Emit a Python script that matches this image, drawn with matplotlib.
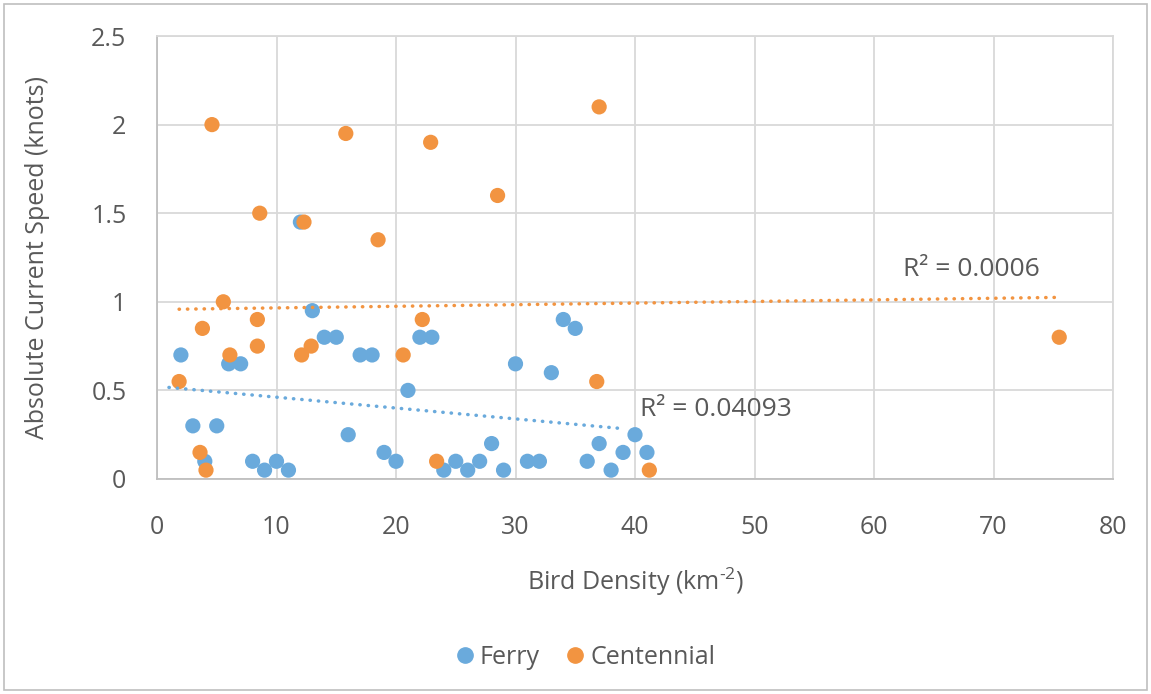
import numpy as np
import matplotlib
matplotlib.use("Agg")
import matplotlib.pyplot as plt
from matplotlib.lines import Line2D
from matplotlib.patches import Rectangle

plt.rcParams['font.family'] = ['Open Sans', 'DejaVu Sans']
plt.rcParams['mathtext.fontset'] = 'custom'
plt.rcParams['mathtext.rm'] = 'Open Sans'
plt.rcParams['mathtext.it'] = 'Open Sans'

# ---- data ----
ferry_x = [2, 3, 4, 5, 6, 7, 8, 9, 10, 11, 12, 13, 14, 15, 16, 17, 18, 19, 20, 21,
           22, 23, 24, 25, 26, 27, 28, 29, 30, 31, 32, 33, 34, 35, 36, 37, 38, 39, 40, 41]
ferry_y = [0.7, 0.3, 0.1, 0.3, 0.65, 0.65, 0.1, 0.05, 0.1, 0.05, 1.45, 0.95, 0.8, 0.8, 0.25,
           0.7, 0.7, 0.15, 0.1, 0.5, 0.8, 0.8, 0.05, 0.1, 0.05, 0.1, 0.2, 0.05, 0.65, 0.1,
           0.1, 0.6, 0.9, 0.85, 0.1, 0.2, 0.05, 0.15, 0.25, 0.15]
cent_x = [1.85, 3.6, 3.8, 4.1, 4.6, 5.55, 6.1, 8.4, 8.4, 8.6, 12.1, 12.3, 12.9, 15.8,
          18.5, 20.6, 22.2, 22.9, 23.4, 28.5, 36.8, 37.0, 41.2, 75.5]
cent_y = [0.55, 0.15, 0.85, 0.05, 2.0, 1.0, 0.7, 0.9, 0.75, 1.5, 0.7, 1.45, 0.75, 1.95,
          1.35, 0.7, 0.9, 1.9, 0.1, 1.6, 0.55, 2.1, 0.05, 0.8]
ferry_trend_range = [1, 39]
cent_trend_range = [1.85, 75.5]
ferry_r2 = "R² = 0.04093"
cent_r2 = "R² = 0.0006"
x_ticks = [0, 10, 20, 30, 40, 50, 60, 70, 80]
y_ticks = [0, 0.5, 1, 1.5, 2, 2.5]
y_tick_labels = ["0", "0.5", "1", "1.5", "2", "2.5"]

BLUE = "#6AAADC"
ORANGE = "#F29441"
TXT = "#595959"
GRID = "#D9D9D9"
FS = 18

fig = plt.figure(figsize=(11.51, 6.94), dpi=100)
ax = fig.add_axes([157/1151, 1-479/694, (1113-157)/1151, (479-36)/694])

ax.set_xlim(0, 80)
ax.set_ylim(0, 2.5)
ax.set_xticks(x_ticks)
ax.set_yticks(y_ticks)
ax.set_yticklabels(y_tick_labels)
ax.grid(True, color=GRID, linewidth=1.3, zorder=0)
ax.set_axisbelow(True)
ax.tick_params(length=0, labelsize=FS, labelcolor=TXT)
ax.tick_params(axis='x', pad=26)
ax.tick_params(axis='y', pad=22)
for s in ax.spines.values():
    s.set_color(GRID)
    s.set_linewidth(1.3)
ax.spines['left'].set_color("#BFBFBF")
ax.spines['bottom'].set_color("#BFBFBF")

ms = 120
ax.scatter(ferry_x, ferry_y, s=ms, color=BLUE, edgecolors='none', zorder=3)
ax.scatter(cent_x, cent_y, s=ms, color=ORANGE, edgecolors='none', zorder=3)

# trendlines
for xs, ys, rng, c in [(ferry_x, ferry_y, ferry_trend_range, BLUE),
                       (cent_x, cent_y, cent_trend_range, ORANGE)]:
    m, b = np.polyfit(xs, ys, 1)
    tx = np.array(rng)
    ax.plot(tx, m*tx + b, color=c, linewidth=2.5, linestyle=(0, (0.1, 2.3)),
            dash_capstyle='round', zorder=4)

ax.text(62.4, 1.18, cent_r2, fontsize=19, color=TXT, va='center', ha='left')
ax.text(40.4, 0.39, ferry_r2, fontsize=19, color=TXT, va='center', ha='left')

ax.set_xlabel(r"Bird Density (km$^{\text{-2}}$)", fontsize=FS, color=TXT, labelpad=18)
ax.set_ylabel("Absolute Current Speed (knots)", fontsize=18, color=TXT, labelpad=30)

handles = [Line2D([], [], linestyle='none', marker='o', markersize=11, color=BLUE, label="Ferry"),
           Line2D([], [], linestyle='none', marker='o', markersize=11, color=ORANGE, label="Centennial")]
fig.legend(handles=handles, loc='center', bbox_to_anchor=(585/1151, 1-657/694), ncol=2,
           frameon=False, fontsize=FS, labelcolor=TXT, handlelength=0.8,
           handletextpad=0.2, columnspacing=1.0)

fig.patches.append(Rectangle((4/1151, 4/694), 1-8/1151, 1-8/694, transform=fig.transFigure,
                             fill=False, edgecolor="#BFBFBF", linewidth=1.2))

fig.savefig("out.png", dpi=100)
